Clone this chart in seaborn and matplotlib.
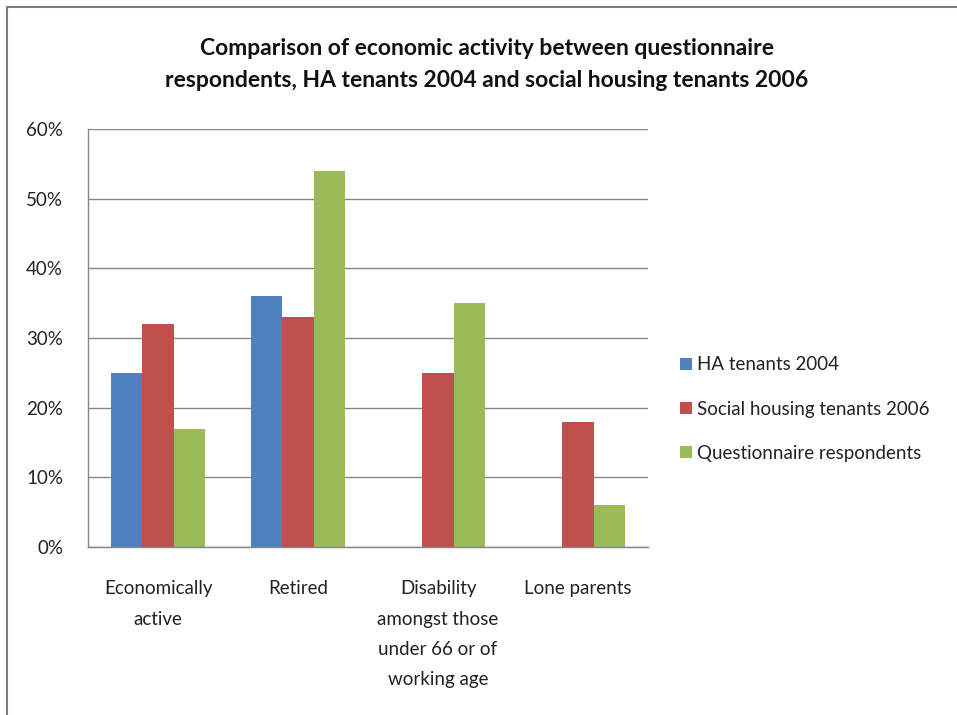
import numpy as np
import pandas as pd
import matplotlib
matplotlib.use("Agg")
import matplotlib.pyplot as plt
import seaborn as sns
from matplotlib.lines import Line2D

categories = ["Economically\nactive", "Retired",
              "Disability\namongst those\nunder 66 or of\nworking age", "Lone parents"]
series_names = ["HA tenants 2004", "Social housing tenants 2006", "Questionnaire respondents"]
ha_2004 = [25, 36, np.nan, np.nan]
social_2006 = [32, 33, 25, 18]
questionnaire = [17, 54, 35, 6]
y_ticks = [0, 10, 20, 30, 40, 50, 60]
colors = ["#4F81BD", "#C0504D", "#9BBB59"]

df = pd.DataFrame({
    "category": categories * 3,
    "series": [series_names[0]] * 4 + [series_names[1]] * 4 + [series_names[2]] * 4,
    "value": ha_2004 + social_2006 + questionnaire,
})

sns.set_theme(style="white")
plt.rcParams["font.family"] = ["Lato", "DejaVu Sans"]

fig = plt.figure(figsize=(9.57, 7.15), dpi=100)
ax = fig.add_axes([88 / 957, 1 - 547 / 715, 560 / 957, 418 / 715])

sns.barplot(data=df, x="category", y="value", hue="series", order=categories,
            hue_order=series_names, palette=colors, width=0.665, saturation=1,
            linewidth=0, ax=ax, legend=True)

ax.set_ylim(0, 60)
ax.set_xlim(-0.5, 3.5)
ax.set_yticks(y_ticks)
ax.set_yticklabels([f"{t}%" for t in y_ticks], fontsize=13.5, color="#222222")
ax.set_xticklabels(categories, fontsize=13.5, color="#222222", linespacing=1.95,
                   va="top")
ax.tick_params(axis="y", length=0, pad=18)
ax.tick_params(axis="x", length=0, pad=24)
ax.set_xlabel("")
ax.set_ylabel("")
ax.yaxis.grid(True, color="#868686", linewidth=1)
ax.set_axisbelow(True)
for side in ["top", "right"]:
    ax.spines[side].set_visible(False)
for side in ["left", "bottom"]:
    ax.spines[side].set_color("#868686")
    ax.spines[side].set_linewidth(1)

handles, labels = ax.get_legend_handles_labels()
ax.legend(handles, labels, loc="center left", bbox_to_anchor=(1.057, 0.33),
          frameon=False, fontsize=13.5, handlelength=0.65, handleheight=0.65,
          handletextpad=0.25, labelspacing=1.45, labelcolor="#222222",
          borderpad=0, borderaxespad=0)

fig.text(487 / 957, 1 - 64.5 / 715,
         "Comparison of economic activity between questionnaire\n"
         "respondents, HA tenants 2004 and social housing tenants 2006",
         ha="center", va="center", fontsize=16.5, fontweight="bold",
         color="#111111", linespacing=1.7)

# chart frame edges
fig.add_artist(Line2D([7 / 957, 7 / 957], [0, 1 - 7 / 715], transform=fig.transFigure,
                      color="#7f7f7f", linewidth=1.5))
fig.add_artist(Line2D([7 / 957, 1], [1 - 7 / 715, 1 - 7 / 715], transform=fig.transFigure,
                      color="#7f7f7f", linewidth=1.5))

fig.savefig("out.png", dpi=100)
